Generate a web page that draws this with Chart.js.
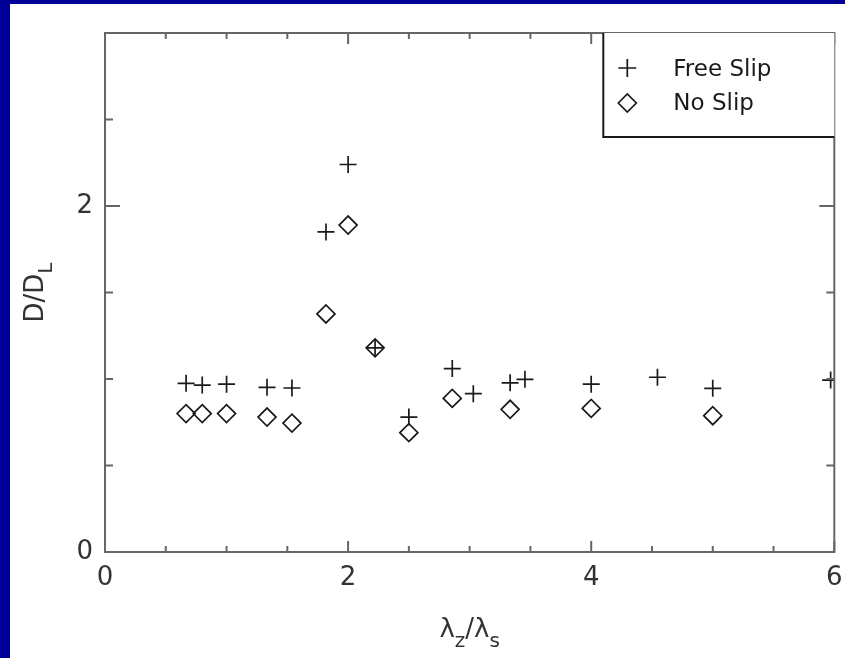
<!DOCTYPE html>
<html>
<head>
<meta charset="utf-8">
<script src="https://cdn.jsdelivr.net/npm/chart.js@4.4.0/dist/chart.umd.min.js"></script>
<style>
  html, body { margin: 0; padding: 0; background: #fff; }
  #wrap { position: relative; width: 845px; height: 658px; }
</style>
</head>
<body>
<div id="wrap"><canvas id="chart"></canvas></div>
<script>
// values
const freeSlipX = [0.667, 0.8, 1.0, 1.333, 1.538, 1.818, 2.0, 2.222, 2.5, 2.857, 3.03, 3.333, 3.455, 4.0, 4.545, 5.0, 5.97];
const freeSlipY = [0.975, 0.965, 0.97, 0.952, 0.948, 1.85, 2.24, 1.18, 0.78, 1.06, 0.915, 0.978, 0.998, 0.97, 1.01, 0.946, 0.994];
const noSlipX = [0.667, 0.8, 1.0, 1.333, 1.538, 1.818, 2.0, 2.222, 2.5, 2.857, 3.333, 4.0, 5.0];
const noSlipY = [0.80, 0.80, 0.80, 0.78, 0.745, 1.376, 1.89, 1.18, 0.69, 0.888, 0.825, 0.83, 0.788];
const seriesNames = ['Free Slip', 'No Slip'];
const xTickLabels = ['0', '2', '4', '6'];
const yTickLabels = ['0', '2'];

const toPoints = (xs, ys) => xs.map((x, i) => ({ x: x, y: ys[i] }));
const ink = '#1a1a1a';
const axisGray = '#666';
const font = 'DejaVu Sans';

function drawMarker(ctx, style, x, y, r) {
  ctx.beginPath();
  if (style === 'cross') {
    ctx.moveTo(x - r, y); ctx.lineTo(x + r, y);
    ctx.moveTo(x, y - r); ctx.lineTo(x, y + r);
  } else {
    ctx.moveTo(x - r, y); ctx.lineTo(x, y - r);
    ctx.lineTo(x + r, y); ctx.lineTo(x, y + r);
    ctx.closePath();
  }
  ctx.stroke();
}

const framePlugin = {
  id: 'frame',
  beforeDraw(chart) {
    const ctx = chart.ctx;
    ctx.save();
    ctx.fillStyle = '#fff';
    ctx.fillRect(0, 0, chart.width, chart.height);
    ctx.fillStyle = '#000099';
    ctx.fillRect(0, 0, 10, chart.height);
    ctx.fillRect(0, 0, chart.width, 4);
    ctx.restore();
  },
  afterDraw(chart) {
    const ctx = chart.ctx;
    const a = chart.chartArea;
    const xs = chart.scales.x, ys = chart.scales.y;
    ctx.save();
    // box round the plot
    ctx.strokeStyle = axisGray;
    ctx.lineWidth = 2;
    ctx.strokeRect(a.left, a.top, a.right - a.left, a.bottom - a.top);
    // inward ticks on all four sides
    ctx.beginPath();
    xs.ticks.forEach(t => {
      const px = xs.getPixelForValue(t.value);
      const len = t.value % 2 === 0 ? 11 : 6;
      ctx.moveTo(px, a.bottom); ctx.lineTo(px, a.bottom - len);
      ctx.moveTo(px, a.top); ctx.lineTo(px, a.top + len);
    });
    ys.ticks.forEach(t => {
      const py = ys.getPixelForValue(t.value);
      const len = t.value % 2 === 0 ? 15 : 8;
      ctx.moveTo(a.left, py); ctx.lineTo(a.left + len, py);
      ctx.moveTo(a.right, py); ctx.lineTo(a.right - len, py);
    });
    ctx.stroke();

    // legend box in the top right corner
    const bx = a.right - 231, by = a.top + 104;
    ctx.fillStyle = '#fff';
    ctx.fillRect(bx, a.top, a.right - bx, by - a.top);
    ctx.strokeStyle = ink;
    ctx.lineWidth = 2;
    ctx.beginPath();
    ctx.moveTo(bx, a.top); ctx.lineTo(bx, by); ctx.lineTo(a.right, by);
    ctx.stroke();
    ctx.lineWidth = 1.7;
    ctx.fillStyle = ink;
    ctx.font = '23px "' + font + '"';
    ctx.textBaseline = 'alphabetic';
    ctx.textAlign = 'left';
    drawMarker(ctx, 'cross', bx + 24, a.top + 35, 9);
    ctx.fillText(seriesNames[0], bx + 70, a.top + 43);
    drawMarker(ctx, 'diamond', bx + 24, a.top + 70, 9);
    ctx.fillText(seriesNames[1], bx + 70, a.top + 77);

    // axis titles with subscripts
    ctx.fillStyle = '#333';
    const big = '26px "' + font + '"', small = '20px "' + font + '"';
    // x title
    let parts = [['\u03bb', 0, big], ['z', 10, small], ['/\u03bb', 0, big], ['s', 10, small]];
    let w = 0;
    parts.forEach(p => { ctx.font = p[2]; w += ctx.measureText(p[0]).width; });
    let cx = (a.left + a.right) / 2 - w / 2;
    const baseX = a.bottom + 85;
    parts.forEach(p => { ctx.font = p[2]; ctx.fillText(p[0], cx, baseX + p[1]); cx += ctx.measureText(p[0]).width; });
    // y title
    ctx.translate(a.left - 62, (a.top + a.bottom) / 2);
    ctx.rotate(-Math.PI / 2);
    parts = [['D/D', 0, big], ['L', 9, small]];
    w = 0;
    parts.forEach(p => { ctx.font = p[2]; w += ctx.measureText(p[0]).width; });
    cx = -w / 2;
    parts.forEach(p => { ctx.font = p[2]; ctx.fillText(p[0], cx, p[1]); cx += ctx.measureText(p[0]).width; });
    ctx.restore();
  }
};

new Chart(document.getElementById('chart'), {
  type: 'scatter',
  data: {
    datasets: [{
      label: seriesNames[0],
      data: toPoints(freeSlipX, freeSlipY),
      pointStyle: 'cross',
      pointRadius: 8.5,
      pointHoverRadius: 8.5,
      borderColor: ink,
      backgroundColor: 'rgba(0,0,0,0)',
      borderWidth: 1.7
    }, {
      label: seriesNames[1],
      data: toPoints(noSlipX, noSlipY),
      pointStyle: 'rectRot',
      pointRadius: 9,
      pointHoverRadius: 9,
      borderColor: ink,
      backgroundColor: 'rgba(0,0,0,0)',
      borderWidth: 1.7
    }]
  },
  options: {
    responsive: true,
    maintainAspectRatio: false,
    animation: false,
    events: [],
    layout: { padding: { top: 33, right: 8, left: 0, bottom: 0 } },
    plugins: { legend: { display: false }, tooltip: { enabled: false } },
    scales: {
      x: {
        type: 'linear', min: 0, max: 6,
        grid: { display: false, drawTicks: false },
        border: { display: false },
        afterFit: s => { s.height = 106; s.paddingLeft = 0; s.paddingRight = 0; },
        ticks: {
          stepSize: 0.5, autoSkip: false, maxRotation: 0, padding: 11,
          color: '#333', font: { family: font, size: 26 },
          callback: v => xTickLabels.includes(String(v)) ? String(v) : ''
        }
      },
      y: {
        type: 'linear', min: 0, max: 3,
        grid: { display: false, drawTicks: false },
        border: { display: false },
        afterFit: s => { s.width = 105; s.paddingTop = 0; s.paddingBottom = 0; },
        ticks: {
          stepSize: 0.5, autoSkip: false, padding: 12,
          color: '#333', font: { family: font, size: 26 },
          callback: v => yTickLabels.includes(String(v)) ? String(v) : ''
        }
      }
    }
  },
  plugins: [framePlugin]
});
</script>
</body>
</html>
